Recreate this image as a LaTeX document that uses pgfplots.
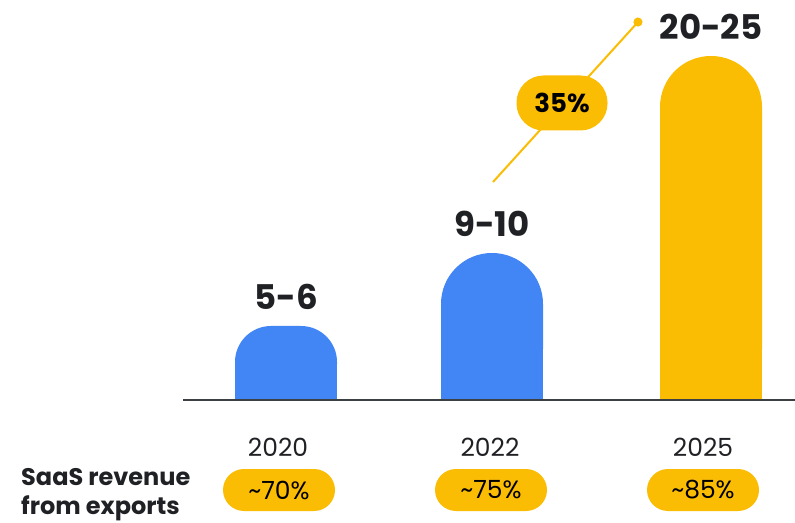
\documentclass[border=0pt]{standalone}
\usepackage{fontspec}
\setmainfont{Poppins}
\usepackage{pgfplots}
\usepackage{pgfplotstable}
\pgfplotsset{compat=1.18}
\usetikzlibrary{arrows.meta}

\definecolor{gblue}{HTML}{4285F4}
\definecolor{gyellow}{HTML}{FBBC04}
\definecolor{textdark}{HTML}{202124}
\definecolor{axisgray}{HTML}{3C4043}

% bar centre (px), bar height above baseline (px), label
\pgfplotstableread{
x   h   label
286 74  5-6
}\barA
\pgfplotstableread{
x   h   label
492 147 9-10
}\barB
\pgfplotstableread{
x   h   label
711 344 20-25
}\barC

\tikzset{
  year/.style={font=\fontsize{25}{30}\selectfont, text=textdark},
  pill/.style={fill=gyellow, rounded corners=21pt, minimum width=112pt, minimum height=42pt,
        font=\fontsize{25}{30}\selectfont, text=black},
  side/.style={anchor=base west, font=\fontsize{24}{29}\selectfont\bfseries, text=textdark, inner sep=0pt},
}
\pgfplotsset{
  barlabel/.style={nodes near coords, point meta=explicit symbolic,
        every node near coord/.append style={anchor=center, yshift=29pt,
        font=\fontsize{34}{40}\selectfont\bfseries, text=textdark}},
}

\begin{document}
\begin{tikzpicture}[x=1pt,y=1pt]
\path[use as bounding box] (0,0) rectangle (795,522);
\begin{axis}[
    at={(183pt,122pt)}, anchor=south west,
    scale only axis, width=612pt, height=400pt,
    xmin=183, xmax=795, ymin=0, ymax=400,
    enlargelimits=false,
    axis x line=bottom, axis y line=none,
    x axis line style={-, line width=2pt, draw=axisgray},
    xtick=\empty, ytick=\empty,
    axis on top,
    clip mode=individual,
    ybar, bar width=102pt, bar shift=0pt,
]
% rounded bars, then square bars up to the start of the rounding to square off the bottom
\addplot[fill=gblue, draw=none, rounded corners=36pt, barlabel]
    table[x=x, y=h, meta=label] {\barA};
\addplot[fill=gblue, draw=none] table[x=x, y expr=\thisrow{h}-36] {\barA};
\addplot[fill=gblue, draw=none, rounded corners=50.9pt, barlabel]
    table[x=x, y=h, meta=label] {\barB};
\addplot[fill=gblue, draw=none] table[x=x, y expr=\thisrow{h}-51] {\barB};
\addplot[fill=gyellow, draw=none, rounded corners=50.9pt, barlabel]
    table[x=x, y=h, meta=label] {\barC};
\addplot[fill=gyellow, draw=none] table[x=x, y expr=\thisrow{h}-51] {\barC};

% growth line
\draw[gyellow, line width=2pt, -{Circle[length=9pt]}] (axis cs:493,218) -- (axis cs:641,381.3);
\node[fill=gyellow, rounded corners=27pt, minimum width=91pt, minimum height=55pt,
      font=\fontsize{26}{30}\selectfont\bfseries, text=black] at (axis cs:562,297) {35\%};

% years
\node[year] at (axis cs:278,-47) {2020};
\node[year] at (axis cs:490,-47) {2022};
\node[year] at (axis cs:703,-47) {2025};

% export share pills
\node[pill] at (axis cs:279,-90) {\textasciitilde70\%};
\node[pill] at (axis cs:491,-90) {\textasciitilde75\%};
\node[pill] at (axis cs:703,-90) {\textasciitilde85\%};

\node[side] at (axis cs:21,-85) {SaaS revenue};
\node[side] at (axis cs:21,-114) {from exports};
\end{axis}
\end{tikzpicture}
\end{document}
